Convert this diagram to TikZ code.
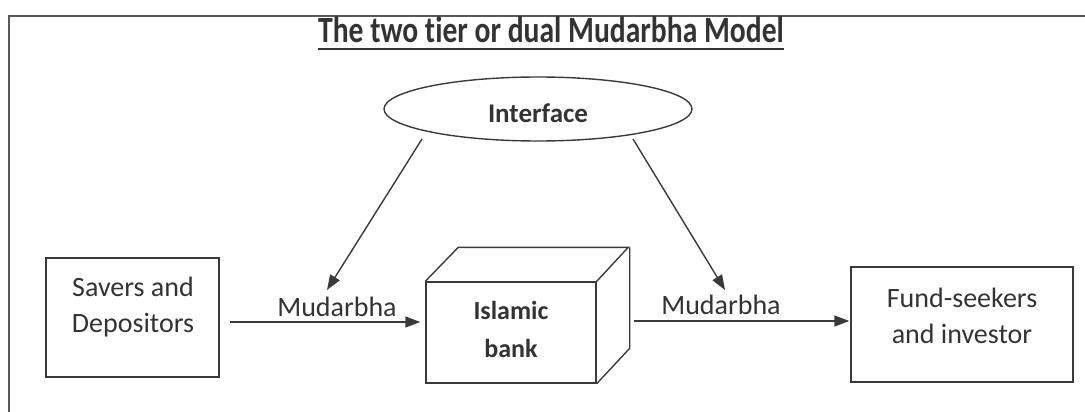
\documentclass[tikz,border=0pt]{standalone}
\usepackage{fontspec}
\setmainfont{Carlito}[Ligatures=NoCommon]
\usetikzlibrary{arrows.meta,shapes.geometric,calc}
\definecolor{ink}{HTML}{3A3A3A}
\definecolor{txt}{HTML}{333333}
\tikzset{
  ln/.style={draw=ink, line width=1.4pt},
  arr/.style={ln, -{Triangle[length=15pt,width=11pt]}},
  boxnode/.style={ln, rectangle, inner sep=0pt},
  bodytxt/.style={text=txt, font=\fontsize{28}{36}\selectfont, align=center, inner sep=0pt},
  boldtxt/.style={text=txt, font=\fontsize{26}{38}\selectfont\bfseries, align=center, inner sep=0pt},
}
\begin{document}
\begin{tikzpicture}[x=1pt,y=-1pt]
\useasboundingbox (0,0) rectangle (1085,412);
% frame
\draw[draw=ink!85, line width=1.5pt] (9,412) -- (9,16) -- (1085,16);
% title
\node[anchor=base, inner sep=0pt, text=txt] (title) at (551,43)
  {\scalebox{0.8}[1]{\fontsize{37}{40}\selectfont\bfseries The two tier or dual Mudarbha Model}};
\draw[draw=txt, line width=2.2pt] ($(title.base west)+(0,6)$) -- ($(title.base east)+(0,6)$);
% interface ellipse
\node[ln, ellipse, minimum width=308pt, minimum height=64pt, inner sep=0pt] (iface) at (538,109) {};
\node[text=txt, font=\fontsize{27}{30}\selectfont\bfseries, inner sep=0pt] (ifacetxt) at (538,113) {Interface};
% savers box
\node[boxnode, minimum width=173pt, minimum height=119pt] (savers) at (132.5,317.5) {};
\node[bodytxt] (saverstxt) at (133,307) {Savers and\\Depositors};
% fund box
\node[boxnode, minimum width=222pt, minimum height=115pt] (fund) at (962,324.5) {};
\node[bodytxt] (fundtxt) at (962,316) {Fund-seekers\\and investor};
% bank cube
\node[boxnode, minimum width=170pt, minimum height=101pt] (bank) at (511,332.5) {};
\draw[ln, line join=miter] (bank.north west) -- ++(33,-34) -- ++(170,0) -- (bank.north east);
\draw[ln, line join=miter] ($(bank.north east)+(33,-34)$) -- ++(0,101) -- (bank.south east);
\node[boldtxt] (banktxt) at (511,329) {Islamic\\bank};
% labels
\node[bodytxt] (m1) at (337,307) {Mudarbha};
\node[bodytxt] (m2) at (721,305) {Mudarbha};
% horizontal arrows
\coordinate (r1) at (0,322);
\coordinate (r2) at (0,321);
\draw[arr] ($(savers.east |- r1)+(10,0)$) -- ($(bank.west |- r1)+(-5,0)$);
\draw[arr] ($(bank.east |- r2)+(37,0)$) -- ($(fund.west |- r2)+(-1,0)$);
% diagonal arrows
\draw[arr] ($(iface.center)+(-116,30)$) -- ($(m1.center)+(-10,-17)$);
\draw[arr] ($(iface.center)+(95,30)$) -- ($(m2.center)+(4,-15)$);
\end{tikzpicture}
\end{document}
